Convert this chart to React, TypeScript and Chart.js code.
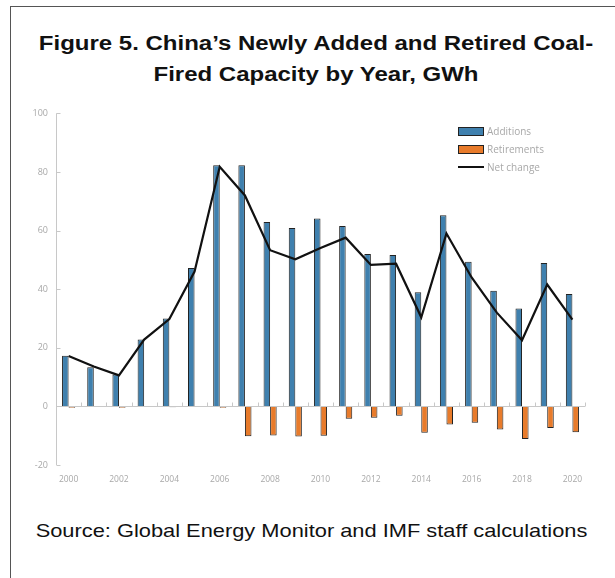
import React, { useEffect, useRef } from "react";
import { Chart, registerables } from "chart.js";

Chart.register(...registerables);

const years: string[] = [
  "2000", "2001", "2002", "2003", "2004", "2005", "2006", "2007", "2008", "2009", "2010",
  "2011", "2012", "2013", "2014", "2015", "2016", "2017", "2018", "2019", "2020",
];
const additions: number[] = [
  17.3, 13.4, 10.9, 22.8, 30.0, 47.2, 82.3, 82.3, 62.9, 60.9, 64.1,
  61.6, 52.0, 51.7, 39.0, 65.2, 49.4, 39.5, 33.4, 48.9, 38.4,
];
const retirements: number[] = [
  -0.5, -0.2, -0.5, 0, -0.3, -0.2, -0.5, -10.2, -9.9, -10.3, -10.0,
  -4.2, -3.9, -3.2, -9.0, -6.2, -5.6, -7.9, -11.1, -7.4, -8.8,
];
const netChange: number[] = [
  17.2, 13.6, 10.6, 22.8, 29.8, 46.0, 81.8, 72.0, 53.3, 50.2, 54.1,
  57.6, 48.3, 48.7, 30.4, 59.0, 44.0, 32.0, 22.6, 41.6, 29.6,
];
const seriesLabels: string[] = ["Additions", "Retirements", "Net change"];
const yTicks: number[] = [-20, 0, 20, 40, 60, 80, 100];

const BLUE = "#3F80AE";
const ORANGE = "#E87B2B";
const AXIS = "#c8c8c8";
const LABEL = "#a8a8a8";

const tickPlugin = {
  id: "insideTicks",
  afterDraw(chart: any) {
    const { ctx, scales } = chart;
    const x = scales.x;
    const y = scales.y;
    ctx.save();
    ctx.strokeStyle = AXIS;
    ctx.lineWidth = 1;
    const ax = Math.round(chart.chartArea.left) + 0.5;
    ctx.beginPath();
    ctx.moveTo(ax, y.getPixelForValue(100));
    ctx.lineTo(ax, y.getPixelForValue(-20));
    ctx.stroke();
    yTicks.forEach((v) => {
      const py = Math.round(y.getPixelForValue(v)) + 0.5;
      ctx.beginPath();
      ctx.moveTo(ax, py);
      ctx.lineTo(ax + 4, py);
      ctx.stroke();
    });
    const zy = Math.round(y.getPixelForValue(0)) + 0.5;
    for (let i = 1; i <= years.length; i++) {
      const px =
        i < years.length
          ? (x.getPixelForValue(i - 1) + x.getPixelForValue(i)) / 2
          : chart.chartArea.right;
      const rx = Math.round(px) + 0.5;
      ctx.beginPath();
      ctx.moveTo(rx, zy);
      ctx.lineTo(rx, zy - 4);
      ctx.stroke();
    }
    ctx.restore();
  },
};

function ChartBox() {
  const ref = useRef<HTMLCanvasElement | null>(null);
  useEffect(() => {
    if (!ref.current) return;
    const chart = new Chart(ref.current, {
      type: "bar",
      data: {
        labels: years,
        datasets: [
          {
            type: "line",
            label: seriesLabels[2],
            data: netChange,
            borderColor: "#111",
            borderWidth: 2.2,
            pointRadius: 0,
            tension: 0,
            order: 0,
          } as any,
          {
            label: seriesLabels[0],
            data: additions,
            backgroundColor: BLUE,
            borderColor: "#222",
            borderWidth: 1,
            categoryPercentage: 0.52,
            barPercentage: 1,
            order: 1,
          },
          {
            label: seriesLabels[1],
            data: retirements,
            backgroundColor: ORANGE,
            borderColor: "#222",
            borderWidth: 1,
            categoryPercentage: 0.52,
            barPercentage: 1,
            order: 1,
          },
        ],
      },
      options: {
        animation: false,
        responsive: false,
        maintainAspectRatio: false,
        layout: { padding: { top: 12, right: 15, left: 0, bottom: 0 } },
        plugins: { legend: { display: false }, tooltip: { enabled: false } },
        scales: {
          x: {
            grid: { display: false, drawTicks: false },
            border: { display: false },
            ticks: {
              autoSkip: false,
              maxRotation: 0,
              color: LABEL,
              font: { family: "'Open Sans', sans-serif", size: 8.5 },
              padding: 9,
              callback: (_v: any, i: number) => (i % 2 === 0 ? years[i] : ""),
            },
            afterFit: (s: any) => {
              s.height = 25;
            },
          },
          y: {
            min: -20,
            max: 100,
            afterBuildTicks: (s: any) => {
              s.ticks = yTicks.map((v) => ({ value: v }));
            },
            grid: {
              drawTicks: false,
              color: (c: any) => (c.tick && c.tick.value === 0 ? AXIS : "rgba(0,0,0,0)"),
              lineWidth: 1,
            },
            border: { display: false },
            ticks: {
              color: LABEL,
              font: { family: "'Open Sans', sans-serif", size: 9 },
              padding: 8,
            },
            afterFit: (s: any) => {
              s.width = 56;
            },
          },
        },
      },
      plugins: [tickPlugin],
    });
    return () => chart.destroy();
  }, []);
  return (
    <canvas
      ref={ref}
      width={600}
      height={390}
      style={{ position: "absolute", left: 0, top: 100, width: 600, height: 390 }}
    />
  );
}

function Legend() {
  const items = [
    { label: seriesLabels[0], kind: "box", color: BLUE },
    { label: seriesLabels[1], kind: "box", color: ORANGE },
    { label: seriesLabels[2], kind: "line", color: "#111" },
  ];
  return (
    <div style={{ position: "absolute", left: 458, top: 122 }}>
      {items.map((it) => (
        <div
          key={it.label}
          style={{ display: "flex", alignItems: "center", height: 18, fontFamily: "'Open Sans', sans-serif", fontSize: 10, color: LABEL }}
        >
          {it.kind === "box" ? (
            <span style={{ display: "inline-block", width: 24, height: 7, background: it.color, border: "1px solid #222", marginRight: 3 }} />
          ) : (
            <span style={{ display: "inline-block", width: 26, height: 2, background: it.color, marginRight: 3 }} />
          )}
          <span>{it.label}</span>
        </div>
      ))}
    </div>
  );
}

export default function App() {
  useEffect(() => {
    document.body.style.margin = "0";
    document.body.style.overflow = "hidden";
  }, []);
  return (
    <div style={{ position: "relative", width: 615, height: 578, overflow: "hidden", background: "#fff" }}>
      <div
        style={{
          position: "absolute",
          left: 10,
          top: 6,
          width: 700,
          height: 700,
          borderTop: "1.5px solid #555",
          borderLeft: "1.5px solid #555",
        }}
      />
      <div
        style={{
          position: "absolute",
          left: 0,
          top: 28,
          width: 632,
          textAlign: "center",
          fontFamily: "'Liberation Sans', Arial, sans-serif",
          fontWeight: "bold",
          fontSize: 20,
          lineHeight: "31px",
          color: "#111",
          transform: "scaleX(1.2)",
          transformOrigin: "316px 0",
        }}
      >
        Figure 5. China’s Newly Added and Retired Coal-
        <br />
        Fired Capacity by Year, GWh
      </div>
      <ChartBox />
      <Legend />
      <div
        style={{
          position: "absolute",
          left: 0,
          top: 520,
          width: 623,
          textAlign: "center",
          fontFamily: "'Liberation Sans', Arial, sans-serif",
          fontSize: 18.5,
          color: "#111",
          transform: "scaleX(1.18)",
          transformOrigin: "311.5px 0",
        }}
      >
        Source: Global Energy Monitor and IMF staff calculations
      </div>
    </div>
  );
}
